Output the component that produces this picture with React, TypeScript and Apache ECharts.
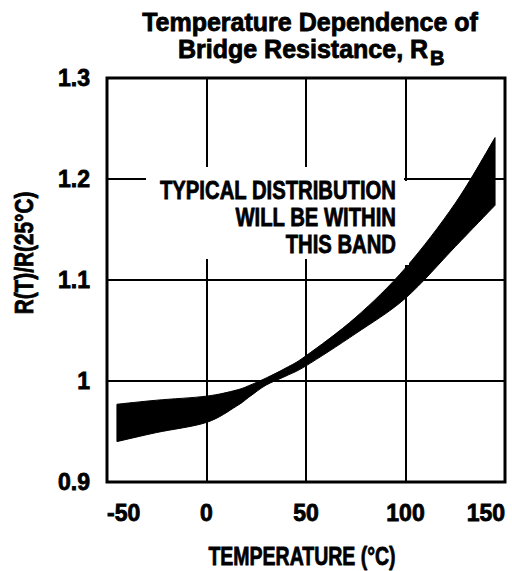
import React, { useEffect, useRef } from "react";
import * as echarts from "echarts";

// Temperature (°C) sample points along the band
const temps = [-45, -25, 0, 15, 22, 30, 40, 50, 75, 100, 125, 145];
// Upper and lower edges of the typical distribution band, R(T)/R(25°C)
const upperEdge = [0.977, 0.981, 0.985, 0.991, 0.996, 1.003, 1.013, 1.025, 1.063, 1.112, 1.176, 1.241];
const lowerEdge = [0.940, 0.949, 0.959, 0.975, 0.985, 0.996, 1.005, 1.015, 1.047, 1.082, 1.133, 1.174];

const xTicks = [-50, 0, 50, 100, 150];
const yTicks = [0.9, 1.0, 1.1, 1.2, 1.3];

const titleLine1 = "Temperature Dependence of";
const titleLine2 = "Bridge Resistance, R";
const titleSub = "B";
const xName = "TEMPERATURE (°C)";
const yName = "R(T)/R(25°C)";
const note = ["TYPICAL DISTRIBUTION", "WILL BE WITHIN", "THIS BAND"];

const FONT = "Liberation Sans";

// Catmull-Rom through points -> cubic bezier path segments
function curveThrough(pts: number[][], tension = 0.5): string {
  let d = "";
  for (let i = 0; i < pts.length - 1; i++) {
    const p0 = pts[i - 1] || pts[i];
    const p1 = pts[i];
    const p2 = pts[i + 1];
    const p3 = pts[i + 2] || pts[i + 1];
    const k = tension / 3;
    const c1x = p1[0] + (p2[0] - p0[0]) * k;
    const c1y = p1[1] + (p2[1] - p0[1]) * k;
    const c2x = p2[0] - (p3[0] - p1[0]) * k;
    const c2y = p2[1] - (p3[1] - p1[1]) * k;
    d += ` C ${c1x} ${c1y} ${c2x} ${c2y} ${p2[0]} ${p2[1]}`;
  }
  return d;
}

export default function App() {
  const ref = useRef<HTMLDivElement>(null);
  useEffect(() => {
    if (!ref.current) return;
    const chart = echarts.init(ref.current, undefined, { renderer: "svg" });
    const labelStyle = {
      fontFamily: FONT,
      fontWeight: "bold",
      fontSize: 23,
      color: "#000",
      textBorderColor: "#000",
      textBorderWidth: 0.8,
    };
    const heavy = { stroke: "#000", lineWidth: 0.8 };
    chart.setOption({
      animation: false,
      backgroundColor: "#fff",
      grid: {
        left: 107,
        right: 7,
        top: 78,
        bottom: 89,
        show: true,
        borderColor: "#000",
        borderWidth: 3,
        z: 3,
      },
      xAxis: {
        type: "value",
        min: xTicks[0],
        max: xTicks[xTicks.length - 1],
        interval: 50,
        axisLine: { show: false },
        axisTick: { show: false },
        splitLine: { show: true, lineStyle: { color: "#000", width: 2 } },
        axisLabel: {
          ...labelStyle,
          margin: 19,
          alignMinLabel: "left",
          alignMaxLabel: "right",
        },
      },
      yAxis: {
        type: "value",
        min: yTicks[0],
        max: yTicks[yTicks.length - 1],
        interval: 0.1,
        axisLine: { show: false },
        axisTick: { show: false },
        splitLine: { show: true, lineStyle: { color: "#000", width: 2 } },
        axisLabel: {
          ...labelStyle,
          margin: 17,
          formatter: (v: number) => String(+v.toFixed(1)),
        },
      },
      series: [
        {
          type: "custom",
          name: "band",
          data: [[0]],
          z: 2,
          renderItem: (_params: any, api: any) => {
            const up = temps.map((t, i) => api.coord([t, upperEdge[i]]));
            const lo = temps.map((t, i) => api.coord([t, lowerEdge[i]])).reverse();
            let d = `M ${up[0][0]} ${up[0][1]}`;
            d += curveThrough(up);
            d += ` L ${lo[0][0]} ${lo[0][1]}`;
            d += curveThrough(lo);
            d += " Z";
            return {
              type: "path",
              shape: { pathData: d },
              style: { fill: "#000", stroke: "#000", lineWidth: 1 },
            };
          },
        },
      ],
      graphic: [
        { type: "rect", shape: { x: 146, y: 167, width: 258, height: 92 }, style: { fill: "#fff" }, z: 10 },
        { type: "rect", shape: { x: 402, y: 181, width: 7, height: 84 }, style: { fill: "#fff" }, z: 10 },
        {
          type: "text",
          x: 396,
          y: 177,
          scaleX: 0.78,
          z: 11,
          style: {
            text: note.join("\n"),
            fontFamily: FONT,
            fontWeight: "bold",
            fontSize: 26,
            lineHeight: 27,
            align: "right",
            verticalAlign: "top",
            fill: "#000",
            ...heavy,
          },
        },
        {
          type: "text",
          x: 310,
          y: 9,
          z: 11,
          style: {
            text: titleLine1,
            fontFamily: FONT,
            fontWeight: "bold",
            fontSize: 25,
            align: "center",
            verticalAlign: "top",
            fill: "#000",
            ...heavy,
          },
        },
        {
          type: "text",
          x: 178,
          y: 36,
          z: 11,
          style: {
            text: titleLine2,
            fontFamily: FONT,
            fontWeight: "bold",
            fontSize: 25,
            align: "left",
            verticalAlign: "top",
            fill: "#000",
            ...heavy,
          },
        },
        {
          type: "text",
          x: 430,
          y: 48,
          z: 11,
          style: {
            text: titleSub,
            fontFamily: FONT,
            fontWeight: "bold",
            fontSize: 20,
            align: "left",
            verticalAlign: "top",
            fill: "#000",
            ...heavy,
          },
        },
        {
          type: "text",
          x: 302,
          y: 543,
          scaleX: 0.75,
          z: 11,
          style: {
            text: xName,
            fontFamily: FONT,
            fontWeight: "bold",
            fontSize: 26,
            align: "center",
            verticalAlign: "top",
            fill: "#000",
            ...heavy,
          },
        },
        {
          type: "text",
          x: 24,
          y: 253,
          rotation: Math.PI / 2,
          scaleX: 0.8,
          z: 11,
          style: {
            text: yName,
            fontFamily: FONT,
            fontWeight: "bold",
            fontSize: 26,
            align: "center",
            verticalAlign: "middle",
            fill: "#000",
            ...heavy,
          },
        },
      ],
    });
    return () => chart.dispose();
  }, []);
  return (
    <div
      ref={ref}
      style={{ position: "fixed", left: 0, top: 0, width: 512, height: 571, background: "#fff" }}
    />
  );
}
